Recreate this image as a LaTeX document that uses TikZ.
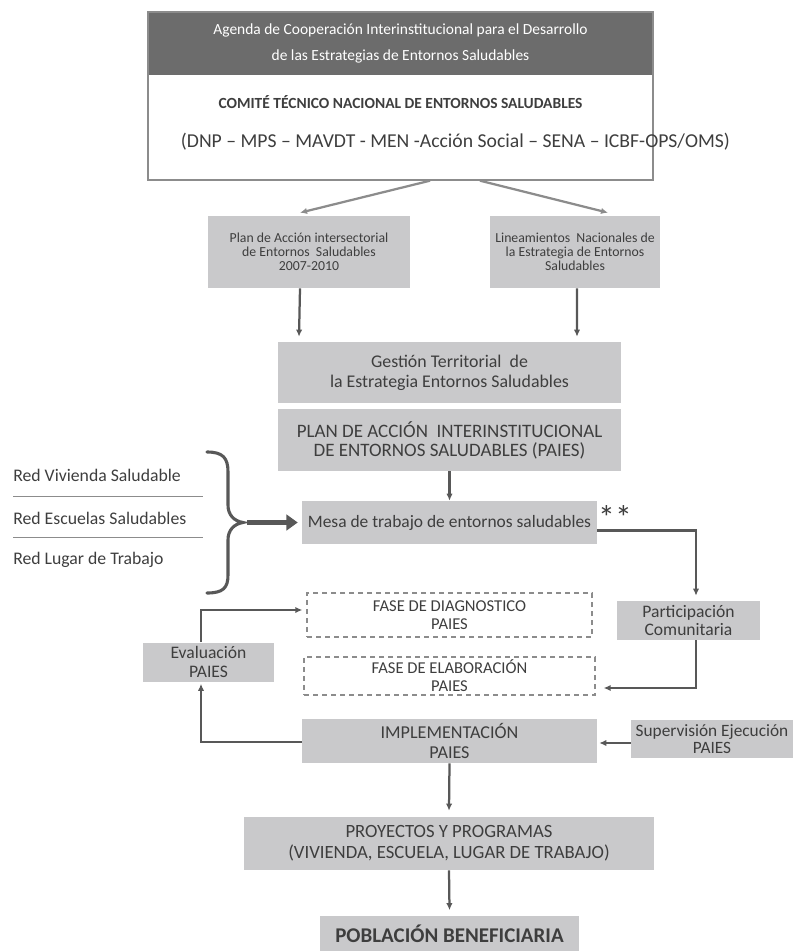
\documentclass[tikz,border=0pt]{standalone}
\usepackage{fontspec}
\setmainfont{Carlito}
\usetikzlibrary{calc,arrows.meta}
\definecolor{cajagris}{RGB}{201,201,203}
\definecolor{oscuro}{RGB}{108,108,108}
\definecolor{linea}{RGB}{88,88,88}
\definecolor{texto}{RGB}{62,62,62}
\definecolor{claro}{RGB}{140,140,140}
\def\px{0.025cm}
\newcommand{\fs}[2]{\fontsize{#1}{#2}\selectfont}

\begin{document}
\begin{tikzpicture}[x=0.025cm, y=-0.025cm,
    caja/.style={fill=cajagris, text=texto, align=center, inner sep=0pt},
    punteada/.style={draw=claro, line width=0.9pt, dash pattern=on 3.6pt off 2.8pt, text=texto, align=center, inner sep=0pt},
    flecha/.style={draw=linea, line width=1.6pt, -{Latex[length=5pt,width=4.5pt]}},
    flechagris/.style={draw=claro, line width=1.6pt, -{Latex[length=5pt,width=4.5pt]}},
    red/.style={text=texto, anchor=west, inner sep=0pt, font=\fs{12.6}{14}}]
    \useasboundingbox (0,0) rectangle (796,951);

    % encabezado
    \node[fill=oscuro, text=white, align=center, inner sep=0pt, minimum width=505*\px, minimum height=63*\px, font=\fs{11}{18.4}] (agenda) at (400.5,43.5) {Agenda de Cooperación Interinstitucional para el Desarrollo\\de las Estrategias de Entornos Saludables};
    \node[draw=claro, line width=1pt, minimum width=505*\px, minimum height=168*\px] (comite) at (400.5,96) {};
    \node[text=texto, font=\bfseries\fs{11}{13}] (comitetxt) at (400.5,102) {COMITÉ TÉCNICO NACIONAL DE ENTORNOS SALUDABLES};
    \node[text=texto, font=\fs{14}{16}] (siglas) at (455.5,142) {(DNP – MPS – MAVDT - MEN -Acción Social – SENA – ICBF-OPS/OMS)};

    \node[caja, minimum width=202*\px, minimum height=72*\px, font=\fs{9.8}{10}] (plan) at (309,252) {Plan de Acción intersectorial\\de Entornos~ Saludables\\2007-2010};
    \node[caja, minimum width=170*\px, minimum height=72*\px, font=\fs{9.8}{10}] (lin) at (575,252) {Lineamientos~ Nacionales de\\la Estrategia de Entornos\\Saludables};

    \node[caja, minimum width=343*\px, minimum height=61*\px, font=\fs{12.7}{14.2}] (gestion) at (449.5,372.5) {Gestión Territorial~ de\\la Estrategia Entornos Saludables};
    \node[caja, minimum width=343*\px, minimum height=62*\px, font=\fs{13.5}{13.5}] (paies) at (449.5,440) {PLAN DE ACCIÓN~ INTERINSTITUCIONAL\\DE ENTORNOS SALUDABLES (PAIES)};
    \node[caja, minimum width=295*\px, minimum height=43*\px, font=\fs{12.4}{14}] (mesa) at (449.5,522.5) {Mesa de trabajo de entornos saludables};
    \node[text=texto, inner sep=0pt, font=\fs{24}{24}] (estrellas) at (615,518) {**};

    % redes
    \node[red] (redviv) at (13,475) {Red Vivienda Saludable};
    \node[red] (redesc) at (13,518) {Red Escuelas Saludables};
    \node[red] (redlug) at (13,560) {Red Lugar de Trabajo};
    \draw[claro, line width=0.7pt] (13,496) -- (203,496);
    \draw[claro, line width=0.7pt] (13,537) -- (203,537);
    \draw[linea, line width=2.2pt, line cap=round] (207,452) .. controls (223,452) and (228,458) .. (228,472) -- (228,505) .. controls (228,515) and (234,521) .. (243,522.5) .. controls (234,524) and (228,530) .. (228,540) -- (228,575) .. controls (228,588) and (223,593) .. (207,593);
    \coordinate (llave) at (247,522.5);

    \node[caja, minimum width=143*\px, minimum height=39*\px, font=\fs{12.5}{12.8}] (part) at (688.5,620.5) {Participación\\Comunitaria};
    \node[punteada, minimum width=285*\px, minimum height=44*\px, font=\fs{11.8}{12.8}] (diag) at (449.5,615) {FASE DE DIAGNOSTICO\\PAIES};
    \node[punteada, minimum width=291*\px, minimum height=38*\px, font=\fs{11.8}{12.8}] (elab) at (449.5,676) {FASE DE ELABORACIÓN\\PAIES};
    \node[caja, minimum width=131*\px, minimum height=39*\px, font=\fs{12.5}{13.5}] (eval) at (208.5,662) {Evaluación\\PAIES};
    \node[caja, minimum width=295*\px, minimum height=44*\px, font=\fs{12.9}{14.2}] (impl) at (449.5,741) {IMPLEMENTACIÓN\\PAIES};
    \node[caja, minimum width=162*\px, minimum height=38*\px, font=\fs{12.3}{11.8}] (sup) at (712,739) {Supervisión Ejecución\\PAIES};
    \node[caja, minimum width=410*\px, minimum height=53*\px, font=\fs{13.3}{15}] (proy) at (449,843.5) {PROYECTOS Y PROGRAMAS\\(VIVIENDA, ESCUELA, LUGAR DE TRABAJO)};
    \node[caja, minimum width=259*\px, minimum height=37*\px, font=\bfseries\fs{14.9}{16}] (pob) at (449.5,934) {POBLACIÓN BENEFICIARIA};

    \draw[flechagris] ($(comite.south)+(29.5,0)$) -- ($(plan.north)+(-9,-3)$);
    \draw[flechagris] ($(comite.south)+(79.5,0)$) -- ($(lin.north)+(33,-3)$);
    \draw[flecha] ($(plan.south)+(-9,0)$) -- ($(gestion.north)+(-150.5,-5)$);
    \draw[flecha] ($(lin.south)+(2,0)$) -- ($(gestion.north)+(127.5,-5)$);
    \draw[flecha] (paies.south) -- (mesa.north);
    \draw[linea, line width=3.6pt, -{Triangle[length=8pt,width=11pt]}] (llave) -- ($(mesa.west)+(-4,0)$);
    \draw[flecha] ($(mesa.east)+(0,8)$) -| ($(part.north)+(7.5,-5)$);
    \draw[flecha] ($(part.south)+(7.5,0)$) |- ($(elab.east)+(8,12)$);
    \draw[flecha] ($(impl.west)+(0,1)$) -| ($(eval.south)+(-7.5,2)$);
    \draw[flecha] ($(eval.north)+(-7.5,0)$) |- ($(diag.west)+(-4,-5)$);
    \draw[flecha] ($(sup.west)+(0,4)$) -- ($(impl.east)+(2,2)$);
    \draw[flecha] (impl.south) -- ($(proy.north)+(0,-6)$);
    \draw[flecha] (proy.south) -- ($(pob.north)+(0,-5)$);
\end{tikzpicture}
\end{document}
